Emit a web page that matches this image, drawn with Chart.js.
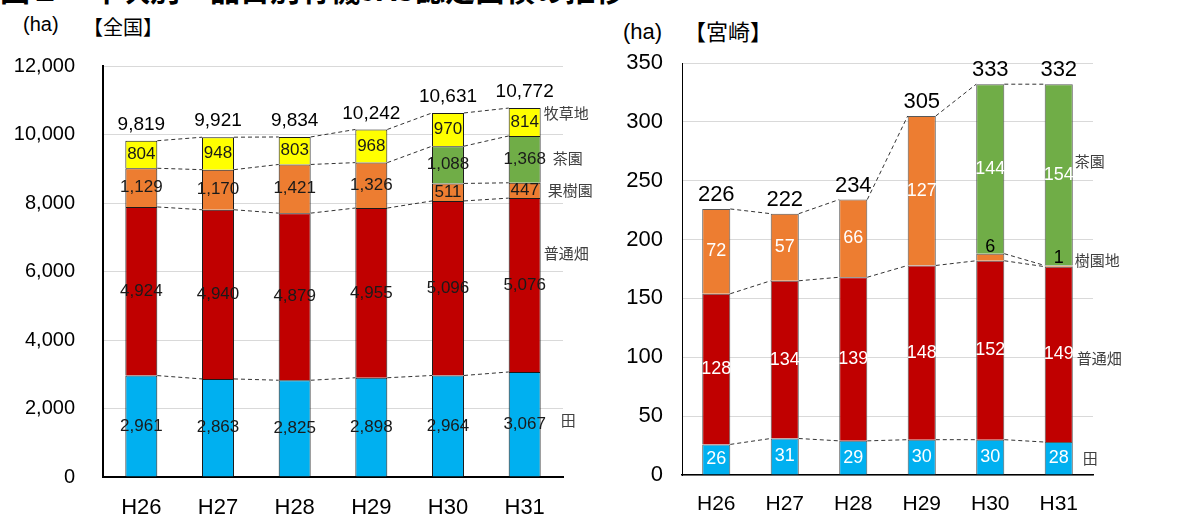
<!DOCTYPE html>
<html>
<head>
<meta charset="utf-8">
<script src="https://cdn.jsdelivr.net/npm/chart.js@4.4.1/dist/chart.umd.min.js"></script>
<style>
body { margin: 0; background: #fff; width: 1192px; height: 517px; overflow: hidden; position: relative; font-family: 'Liberation Sans', Arial, sans-serif; }
canvas { position: absolute; top: 0; }
#zenkoku { left: 0; }
#miyazaki { left: 600px; }
.txt { position: absolute; white-space: nowrap; color: #000; line-height: 1; }
.jp { font-family: 'Noto Sans CJK JP', sans-serif; }
</style>
</head>
<body>
<div class="txt jp" style="left:0;top:-27px;font-size:30px;font-weight:bold;">図２　年次別・品目別有機JAS認定面積の推移</div>
<div class="txt" style="left:23px;top:14px;font-size:20px;">(ha)</div>
<div class="txt jp" style="left:83px;top:17px;font-size:20px;">【全国】</div>
<div class="txt" style="left:623px;top:21px;font-size:22px;">(ha)</div>
<div class="txt jp" style="left:684px;top:19px;font-size:22px;">【宮崎】</div>
<canvas id="zenkoku" width="600" height="517"></canvas>
<canvas id="miyazaki" width="592" height="517"></canvas>
<script>
'use strict';

const categories = ['H26', 'H27', 'H28', 'H29', 'H30', 'H31'];

// 全国 (ha)
const zenkokuTa = [2961, 2863, 2825, 2898, 2964, 3067];
const zenkokuFutsuhata = [4924, 4940, 4879, 4955, 5096, 5076];
const zenkokuKaju = [1129, 1170, 1421, 1326, 511, 447];
const zenkokuCha = [0, 0, 0, 0, 1088, 1368];
const zenkokuBokusou = [804, 948, 803, 968, 970, 814];
const zenkokuTotal = [9819, 9921, 9834, 10242, 10631, 10772];
const zenkokuTicks = [0, 2000, 4000, 6000, 8000, 10000, 12000];

// 宮崎 (ha)
const miyazakiTa = [26, 31, 29, 30, 30, 28];
const miyazakiFutsuhata = [128, 134, 139, 148, 152, 149];
const miyazakiJuen = [72, 57, 66, 127, 6, 1];
const miyazakiCha = [0, 0, 0, 0, 144, 154];
const miyazakiTotal = [226, 222, 234, 305, 333, 332];
const miyazakiTicks = [0, 50, 100, 150, 200, 250, 300, 350];

const BLUE = '#00b0f0';
const RED = '#c00000';
const ORANGE = '#ed7d31';
const GREEN = '#70ad47';
const YELLOW = '#ffff00';

Chart.defaults.font.family = "'Liberation Sans', Arial, sans-serif";
Chart.defaults.color = '#000';

const fmt = v => v.toLocaleString('en-US');

// dashed series lines, value labels, totals and series names
const stackDecor = {
    id: 'stackDecor',
    afterDatasetsDraw(chart, args, opts) {
        const ctx = chart.ctx;
        const sets = chart.data.datasets;
        const n = sets.length;
        const metas = sets.map((d, i) => chart.getDatasetMeta(i));
        ctx.save();

        ctx.strokeStyle = '#333';
        ctx.lineWidth = 1;
        ctx.setLineDash([4, 3]);
        for (let d = 0; d < n; d++) {
            const vals = sets[d].data;
            const above = d + 1 < n ? sets[d + 1].data : null;
            for (let i = 0; i < vals.length - 1; i++) {
                if (vals[i] === 0 && vals[i + 1] === 0) continue;
                if (above && above[i] === 0 && above[i + 1] > 0) continue;
                const a = metas[d].data[i];
                const b = metas[d].data[i + 1];
                ctx.beginPath();
                ctx.moveTo(a.x + a.width / 2, a.y);
                ctx.lineTo(b.x - b.width / 2, b.y);
                ctx.stroke();
            }
        }
        ctx.setLineDash([]);

        // segment values
        ctx.textAlign = 'center';
        ctx.textBaseline = 'middle';
        ctx.font = opts.segFont;
        for (let d = 0; d < n; d++) {
            sets[d].data.forEach((v, i) => {
                if (!v) return;
                const el = metas[d].data[i];
                const h = el.base - el.y;
                let y = (el.y + el.base) / 2;
                ctx.fillStyle = opts.segColor;
                if (h < 12) {
                    y = el.y - 7;
                    ctx.fillStyle = '#000';
                }
                ctx.fillText(fmt(v), el.x, y);
            });
        }

        // totals
        ctx.font = opts.totalFont;
        ctx.fillStyle = '#000';
        opts.totals.forEach((v, i) => {
            const el = metas[n - 1].data[i];
            ctx.fillText(fmt(v), el.x, el.y - opts.totalGap);
        });

        // series names to the right of the last bar
        ctx.font = opts.nameFont;
        ctx.fillStyle = '#404040';
        ctx.textAlign = 'left';
        const last = sets[0].data.length - 1;
        for (let d = 0; d < n; d++) {
            const el = metas[d].data[last];
            const off = opts.nameOffsets[d];
            ctx.fillText(sets[d].label, el.x + el.width / 2 + off[0], (el.y + el.base) / 2 + off[1]);
        }
        ctx.restore();
    }
};

function makeChart(id, datasets, conf) {
    return new Chart(document.getElementById(id), {
        type: 'bar',
        data: { labels: categories, datasets: datasets },
        plugins: [stackDecor],
        options: {
            responsive: false,
            animation: false,
            devicePixelRatio: 1,
            layout: { padding: conf.padding },
            datasets: {
                bar: {
                    barPercentage: conf.barPct,
                    categoryPercentage: 1,
                    borderWidth: 1,
                    borderColor: conf.barBorder
                }
            },
            plugins: {
                legend: { display: false },
                tooltip: { enabled: false },
                stackDecor: conf.decor
            },
            scales: {
                x: {
                    stacked: true,
                    grid: { display: false, drawTicks: false },
                    border: { color: '#000', width: conf.xBorder },
                    ticks: { color: '#000', font: { size: conf.xFont }, padding: conf.xPad },
                    afterFit(s) { s.height = conf.xHeight; }
                },
                y: {
                    stacked: true,
                    min: conf.ticks[0],
                    max: conf.ticks[conf.ticks.length - 1],
                    afterBuildTicks(s) { s.ticks = conf.ticks.map(v => ({ value: v })); },
                    grid: { color: '#d9d9d9', lineWidth: 1, drawTicks: false },
                    border: { color: '#000', width: conf.yBorder },
                    ticks: { color: '#000', font: { size: conf.yFont }, padding: conf.yPad, callback: v => fmt(v) },
                    afterFit(s) { s.width = conf.yWidth; }
                }
            }
        }
    });
}

makeChart('zenkoku', [
    { label: '田', data: zenkokuTa, backgroundColor: BLUE },
    { label: '普通畑', data: zenkokuFutsuhata, backgroundColor: RED },
    { label: '果樹園', data: zenkokuKaju, backgroundColor: ORANGE },
    { label: '茶園', data: zenkokuCha, backgroundColor: GREEN },
    { label: '牧草地', data: zenkokuBokusou, backgroundColor: YELLOW }
], {
    ticks: zenkokuTicks,
    padding: { top: 66, right: 37, left: 0, bottom: 0 },
    barPct: 0.417,
    barBorder: '#1a1a1a',
    xBorder: 2, yBorder: 2,
    xFont: 22, xPad: 18, xHeight: 39.5,
    yFont: 20, yPad: 28, yWidth: 103,
    decor: {
        segFont: "17px 'Liberation Sans', Arial, sans-serif",
        segColor: '#1a1a1a',
        totalFont: "19px 'Liberation Sans', Arial, sans-serif",
        totalGap: 16,
        totals: zenkokuTotal,
        nameFont: "15px 'Noto Sans CJK JP', sans-serif",
        nameOffsets: [[20, -4], [3, -32], [7, 0], [12, -1], [3, -9]]
    }
});

makeChart('miyazaki', [
    { label: '田', data: miyazakiTa, backgroundColor: BLUE },
    { label: '普通畑', data: miyazakiFutsuhata, backgroundColor: RED },
    { label: '樹園地', data: miyazakiJuen, backgroundColor: ORANGE },
    { label: '茶園', data: miyazakiCha, backgroundColor: GREEN }
], {
    ticks: miyazakiTicks,
    padding: { top: 63, right: 99, left: 0, bottom: 0 },
    barPct: 0.41,
    barBorder: '#595959',
    xBorder: 1.5, yBorder: 1,
    xFont: 21, xPad: 17, xHeight: 42,
    yFont: 22, yPad: 19, yWidth: 82,
    decor: {
        segFont: "18px 'Liberation Sans', Arial, sans-serif",
        segColor: '#fff',
        totalFont: "22px 'Liberation Sans', Arial, sans-serif",
        totalGap: 14,
        totals: miyazakiTotal,
        nameFont: "15px 'Noto Sans CJK JP', sans-serif",
        nameOffsets: [[10, 0], [4, 4], [2, -6], [2, -14]]
    }
});
</script>
</body>
</html>
